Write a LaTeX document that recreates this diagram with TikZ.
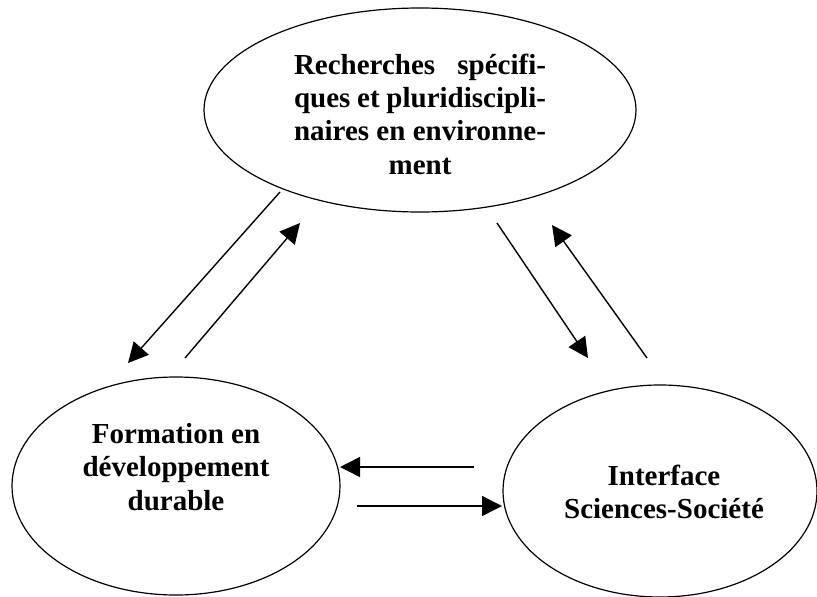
\documentclass[tikz,border=0pt]{standalone}
\usepackage{fontspec}
\setmainfont{Liberation Serif}
\usetikzlibrary{shapes,arrows.meta,positioning}

\begin{document}
\begin{tikzpicture}[x=1pt,y=-1pt,
        bulle/.style={draw,ellipse,line width=1.2pt,inner sep=0pt},
        titre/.style={font=\bfseries\fontsize{29}{33.3}\selectfont,align=center},
        fleche/.style={line width=1.4pt,-{Triangle[length=20pt,width=20pt]}}]
            \useasboundingbox (0,0) rectangle (817,597);

            \node[bulle,minimum width=432pt,minimum height=204pt] (rech) at (420,110) {};
            \node[titre] (trech) at (420,114) {\makebox[252pt][s]{Recherches  spécifi-}\\
                \makebox[252pt][s]{ques et pluridiscipli-}\\
                \makebox[252pt][s]{naires en environne-}\\ ment};

            \node[bulle,minimum width=328pt,minimum height=218pt] (form) at (176,486) {};
            \node[titre] (tform) at (176,467) {Formation en\\ développement\\ durable};

            \node[bulle,minimum width=314pt,minimum height=212pt] (inter) at (660,491) {};
            \node[titre] (tinter) at (664,492) {Interface\\ Sciences-Société};

            % recherches <-> formation
            \coordinate (r2f-a) at (280,192);
            \coordinate (r2f-b) at (128,363);
            \coordinate (f2r-a) at (185,358);
            \coordinate (f2r-b) at (300,223);
            \draw[fleche] (r2f-a) -- (r2f-b);
            \draw[fleche] (f2r-a) -- (f2r-b);

            % recherches <-> interface
            \coordinate (r2i-a) at (497,223);
            \coordinate (r2i-b) at (588,358);
            \coordinate (i2r-a) at (647,358);
            \coordinate (i2r-b) at (552,225);
            \draw[fleche] (r2i-a) -- (r2i-b);
            \draw[fleche] (i2r-a) -- (i2r-b);

            % formation <-> interface
            \coordinate (i2f-a) at (474,467);
            \coordinate (i2f-b) at (340,467);
            \coordinate (f2i-a) at (357,506);
            \coordinate (f2i-b) at (502,506);
            \draw[fleche] (i2f-a) -- (i2f-b);
            \draw[fleche] (f2i-a) -- (f2i-b);
        \end{tikzpicture}
\end{document}
